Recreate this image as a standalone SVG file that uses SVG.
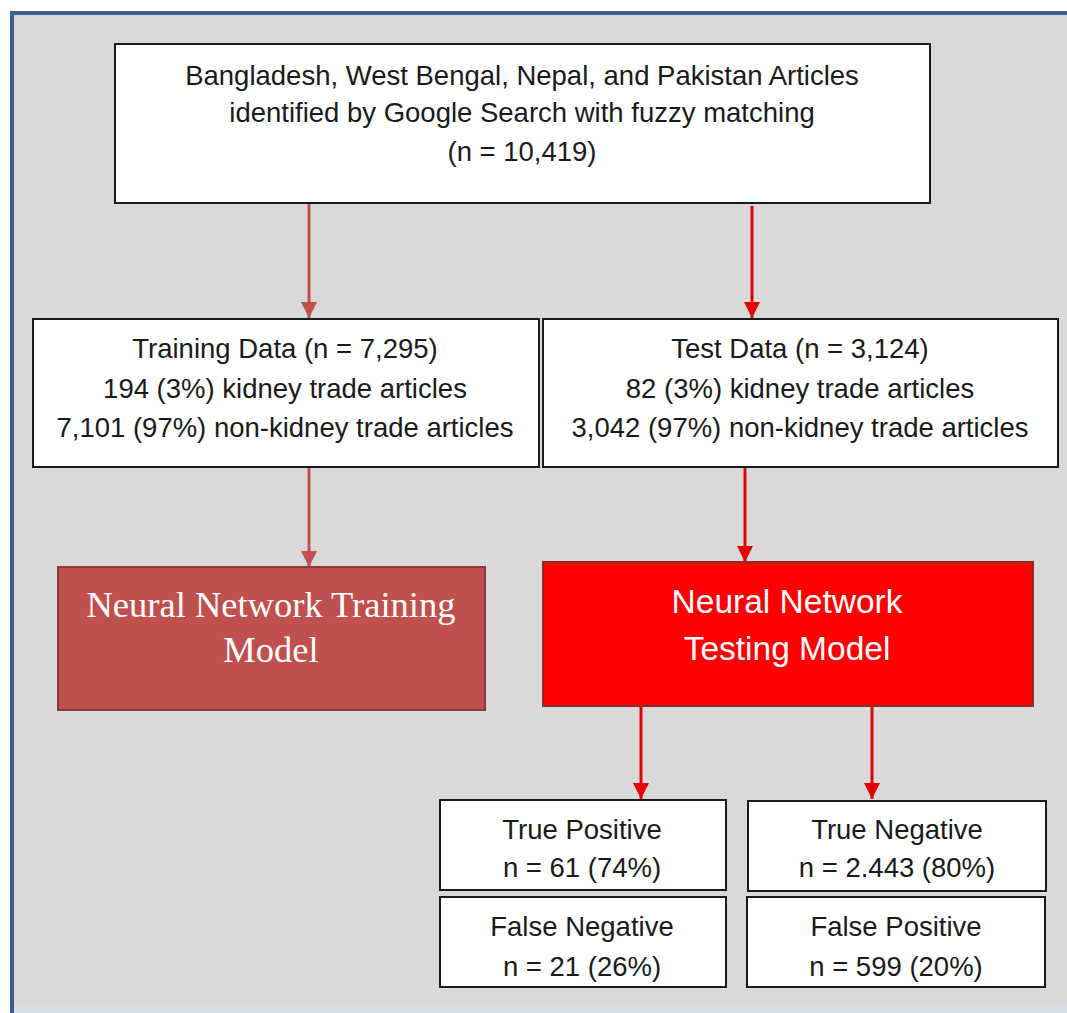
<svg xmlns="http://www.w3.org/2000/svg" width="1067" height="1013" viewBox="0 0 1067 1013">
<defs>
<style>
.box{fill:#ffffff;stroke:#1a1a1a;stroke-width:2}
.t{font-family:"Liberation Sans",Arial,sans-serif;font-size:27.5px;fill:#1a1a1a;text-anchor:middle}
.tb{font-family:"Liberation Sans",Arial,sans-serif;font-size:27.5px;fill:#1a1a1a;text-anchor:middle}
.w{font-family:"Liberation Sans",Arial,sans-serif;font-size:33.5px;fill:#ffffff;text-anchor:middle}
.ws{font-family:"Liberation Serif","Times New Roman",serif;font-size:36.5px;fill:#ffffff;text-anchor:middle}
.c1{stroke:#c0504d;stroke-width:3;fill:none}
.c2{stroke:#e30000;stroke-width:3;fill:none}
</style>
<marker id="a1" viewBox="0 0 10 10" refX="10" refY="5" markerWidth="5.5" markerHeight="5.5" markerUnits="strokeWidth" orient="auto"><path d="M0,0 L10,5 L0,10 z" fill="#c0504d"/></marker>
<marker id="a2" viewBox="0 0 10 10" refX="10" refY="5" markerWidth="5.5" markerHeight="5.5" markerUnits="strokeWidth" orient="auto"><path d="M0,0 L10,5 L0,10 z" fill="#e30000"/></marker>
</defs>
<rect x="0" y="0" width="1067" height="1013" fill="#ffffff"/>
<rect x="12" y="13" width="1070" height="1030" fill="#d9d9d9" stroke="#3a5f8c" stroke-width="4"/>
<rect x="14" y="1003" width="1053" height="10" fill="#d5dce4"/>
<g id="connectors">
<line class="c1" x1="309" y1="204" x2="309" y2="318" marker-end="url(#a1)"/>
<line class="c2" x1="752" y1="206" x2="752" y2="318" marker-end="url(#a2)"/>
<line class="c1" x1="309" y1="468" x2="309" y2="567" marker-end="url(#a1)"/>
<line class="c2" x1="745" y1="468" x2="745" y2="562" marker-end="url(#a2)"/>
<line class="c2" x1="641" y1="707" x2="641" y2="799" marker-end="url(#a2)"/>
<line class="c2" x1="872" y1="707" x2="872" y2="799" marker-end="url(#a2)"/>
</g>
<g id="source">
<rect class="box" x="115" y="44" width="815" height="159"/>
<text class="t" x="522" y="85">Bangladesh, West Bengal, Nepal, and Pakistan Articles</text>
<text class="t" x="522" y="122">identified by Google Search with fuzzy matching</text>
<text class="t" x="522" y="161">(n = 10,419)</text>
</g>
<g id="training-data">
<rect class="box" x="33" y="319" width="506" height="148"/>
<text class="t" x="285" y="358">Training Data (n = 7,295)</text>
<text class="t" x="285" y="398">194 (3%) kidney trade articles</text>
<text class="t" x="285" y="437">7,101 (97%) non-kidney trade articles</text>
</g>
<g id="test-data">
<rect class="box" x="543" y="319" width="515" height="148"/>
<text class="t" x="800" y="358">Test Data (n = 3,124)</text>
<text class="t" x="800" y="398">82 (3%) kidney trade articles</text>
<text class="t" x="800" y="437">3,042 (97%) non-kidney trade articles</text>
</g>
<g id="nn-training">
<rect x="58" y="567" width="427" height="143" fill="#c0504d" stroke="#8c3836" stroke-width="2"/>
<text class="ws" x="271" y="617">Neural Network Training</text>
<text class="ws" x="271" y="662">Model</text>
</g>
<g id="nn-testing">
<rect x="543" y="562" width="490" height="144" fill="#ff0000" stroke="#8b2a2a" stroke-width="2"/>
<text class="w" x="787" y="613">Neural Network</text>
<text class="w" x="787" y="660">Testing Model</text>
</g>
<g id="true-positive">
<rect class="box" x="440" y="800" width="286" height="90"/>
<text class="tb" x="582" y="839">True Positive</text>
<text class="tb" x="582" y="877">n = 61 (74%)</text>
</g>
<g id="true-negative">
<rect class="box" x="748" y="801" width="298" height="90"/>
<text class="tb" x="897" y="839">True Negative</text>
<text class="tb" x="897" y="877">n = 2.443 (80%)</text>
</g>
<g id="false-negative">
<rect class="box" x="440" y="897" width="286" height="90"/>
<text class="tb" x="582" y="936">False Negative</text>
<text class="tb" x="582" y="976">n = 21 (26%)</text>
</g>
<g id="false-positive">
<rect class="box" x="747" y="897" width="298" height="90"/>
<text class="tb" x="896" y="936">False Positive</text>
<text class="tb" x="896" y="976">n = 599 (20%)</text>
</g>
</svg>
